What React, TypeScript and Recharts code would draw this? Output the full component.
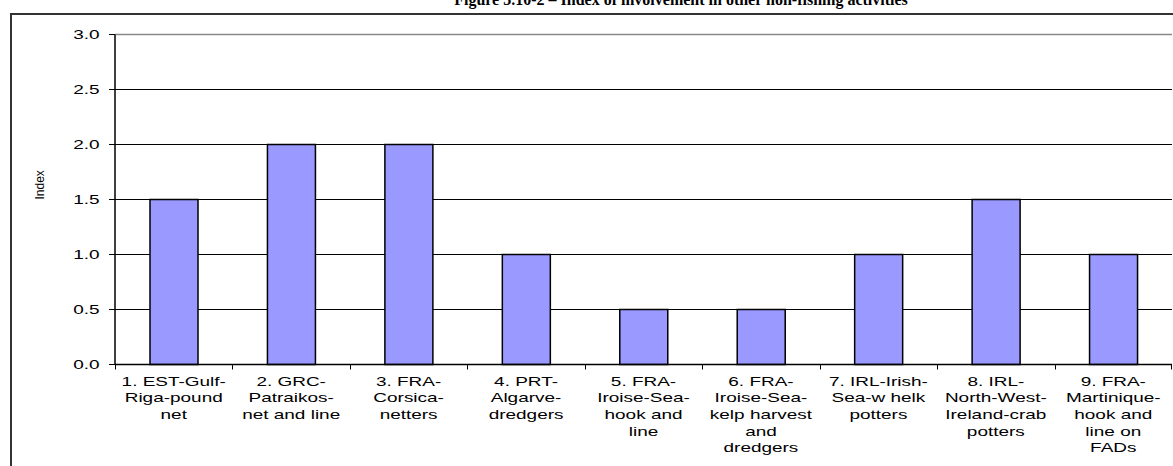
import React from 'react';
import { BarChart, Bar, XAxis, YAxis, CartesianGrid, ReferenceLine } from 'recharts';

// chart data
const categories = [
  '1. EST-Gulf-Riga-pound net',
  '2. GRC-Patraikos-net and line',
  '3. FRA-Corsica-netters',
  '4. PRT-Algarve-dredgers',
  '5. FRA-Iroise-Sea-hook and line',
  '6. FRA-Iroise-Sea-kelp harvest and dredgers',
  '7. IRL-Irish-Sea-w helk potters',
  '8. IRL-North-West-Ireland-crab potters',
  '9. FRA-Martinique-hook and line on FADs',
];
const indexValues = [1.5, 2, 2, 1, 0.5, 0.5, 1, 1.5, 1];

// wrapped tick labels, as printed under each bar
const tickLines = [
  ['1. EST-Gulf-', 'Riga-pound', 'net'],
  ['2. GRC-', 'Patraikos-', 'net and line'],
  ['3. FRA-', 'Corsica-', 'netters'],
  ['4. PRT-', 'Algarve-', 'dredgers'],
  ['5. FRA-', 'Iroise-Sea-', 'hook and', 'line'],
  ['6. FRA-', 'Iroise-Sea-', 'kelp harvest', 'and', 'dredgers'],
  ['7. IRL-Irish-', 'Sea-w helk', 'potters'],
  ['8. IRL-', 'North-West-', 'Ireland-crab', 'potters'],
  ['9. FRA-', 'Martinique-', 'hook and', 'line on', 'FADs'],
];
const yTicks = [0, 0.5, 1, 1.5, 2, 2.5, 3];

const TITLE = 'Figure 3.10-2 – Index of involvement in other non-fishing activities';

const data = categories.map((name, i) => ({ name, value: indexValues[i] }));

const W = 1173;
const H = 466;
const AXIS_W = 115;
const PLOT_W = W - AXIS_W - 1;
const BAND = PLOT_W / categories.length;
const STRETCH = 1.58; // the original text is wide, like a stretched excel export
const FONT = '"Liberation Sans", Arial, sans-serif';

const XTick = (props: any) => {
  const { x, y, index } = props;
  const lines = tickLines[index] || [];
  const left = Math.round(x - BAND / 2) + 0.5;
  const right = Math.round(x + BAND / 2) - 0.5;
  const last = index === categories.length - 1;
  return (
    <g>
      <line x1={left} y1={y - 8} x2={left} y2={y - 3} stroke="#000" strokeWidth={1} />
      {last && <line x1={right} y1={y - 8} x2={right} y2={y - 3} stroke="#000" strokeWidth={1} />}
      {lines.map((t: string, i: number) => (
        <text
          key={i}
          transform={`translate(${x},${y + 13 + i * 16.7}) scale(${STRETCH},1)`}
          textAnchor="middle"
          fontFamily={FONT}
          fontSize={12}
          fill="#000"
        >
          {t}
        </text>
      ))}
    </g>
  );
};

const YTick = (props: any) => {
  const { x, y, payload } = props;
  return (
    <text
      transform={`translate(${x - 7.5},${y + 4.3}) scale(${STRETCH},1)`}
      textAnchor="end"
      fontFamily={FONT}
      fontSize={12}
      fill="#000"
    >
      {payload.value.toFixed(1)}
    </text>
  );
};

export default function App() {
  return (
    <div style={{ position: 'absolute', left: 0, top: 0, width: W, height: H, overflow: 'hidden', background: '#fff' }}>
      <svg width={W} height={20} style={{ position: 'absolute', left: 0, top: 0 }}>
        <text x={681} y={4.5} textAnchor="middle" fontFamily='"Liberation Serif", "Times New Roman", serif' fontWeight="bold" fontSize={16} fill="#000">
          {TITLE}
        </text>
      </svg>
      <div style={{ position: 'absolute', left: 10, top: 13, width: W + 50, height: H + 50, border: '2px solid #333', boxSizing: 'border-box' }} />
      <div style={{ position: 'absolute', left: 0, top: 0 }}>
        <BarChart width={W} height={H} data={data} margin={{ top: 34.5, right: 1, left: 0, bottom: 0 }}>
          <CartesianGrid vertical={false} stroke="#000" strokeWidth={1} />
          <XAxis
            dataKey="name"
            height={101.5}
            interval={0}
            tickLine={false}
            axisLine={{ stroke: '#000', strokeWidth: 1.5 }}
            tick={<XTick />}
          />
          <YAxis
            width={AXIS_W}
            domain={[0, 3]}
            ticks={yTicks}
            tickSize={6}
            tickLine={{ stroke: '#000' }}
            axisLine={{ stroke: '#000', strokeWidth: 1.5 }}
            tick={<YTick />}
            label={{ value: 'Index', angle: -90, position: 'insideLeft', offset: 40, fontFamily: FONT, fontSize: 12, fill: '#000' }}
          />
          <YAxis
            yAxisId="r"
            orientation="right"
            width={0}
            domain={[0, 3]}
            tick={false}
            tickLine={false}
            axisLine={{ stroke: '#888', strokeWidth: 2 }}
          />
          <ReferenceLine y={3} stroke="#888" strokeWidth={1.5} />
          <Bar dataKey="value" fill="#9999FF" stroke="#000" strokeWidth={1.5} barSize={48} isAnimationActive={false} />
        </BarChart>
      </div>
    </div>
  );
}
